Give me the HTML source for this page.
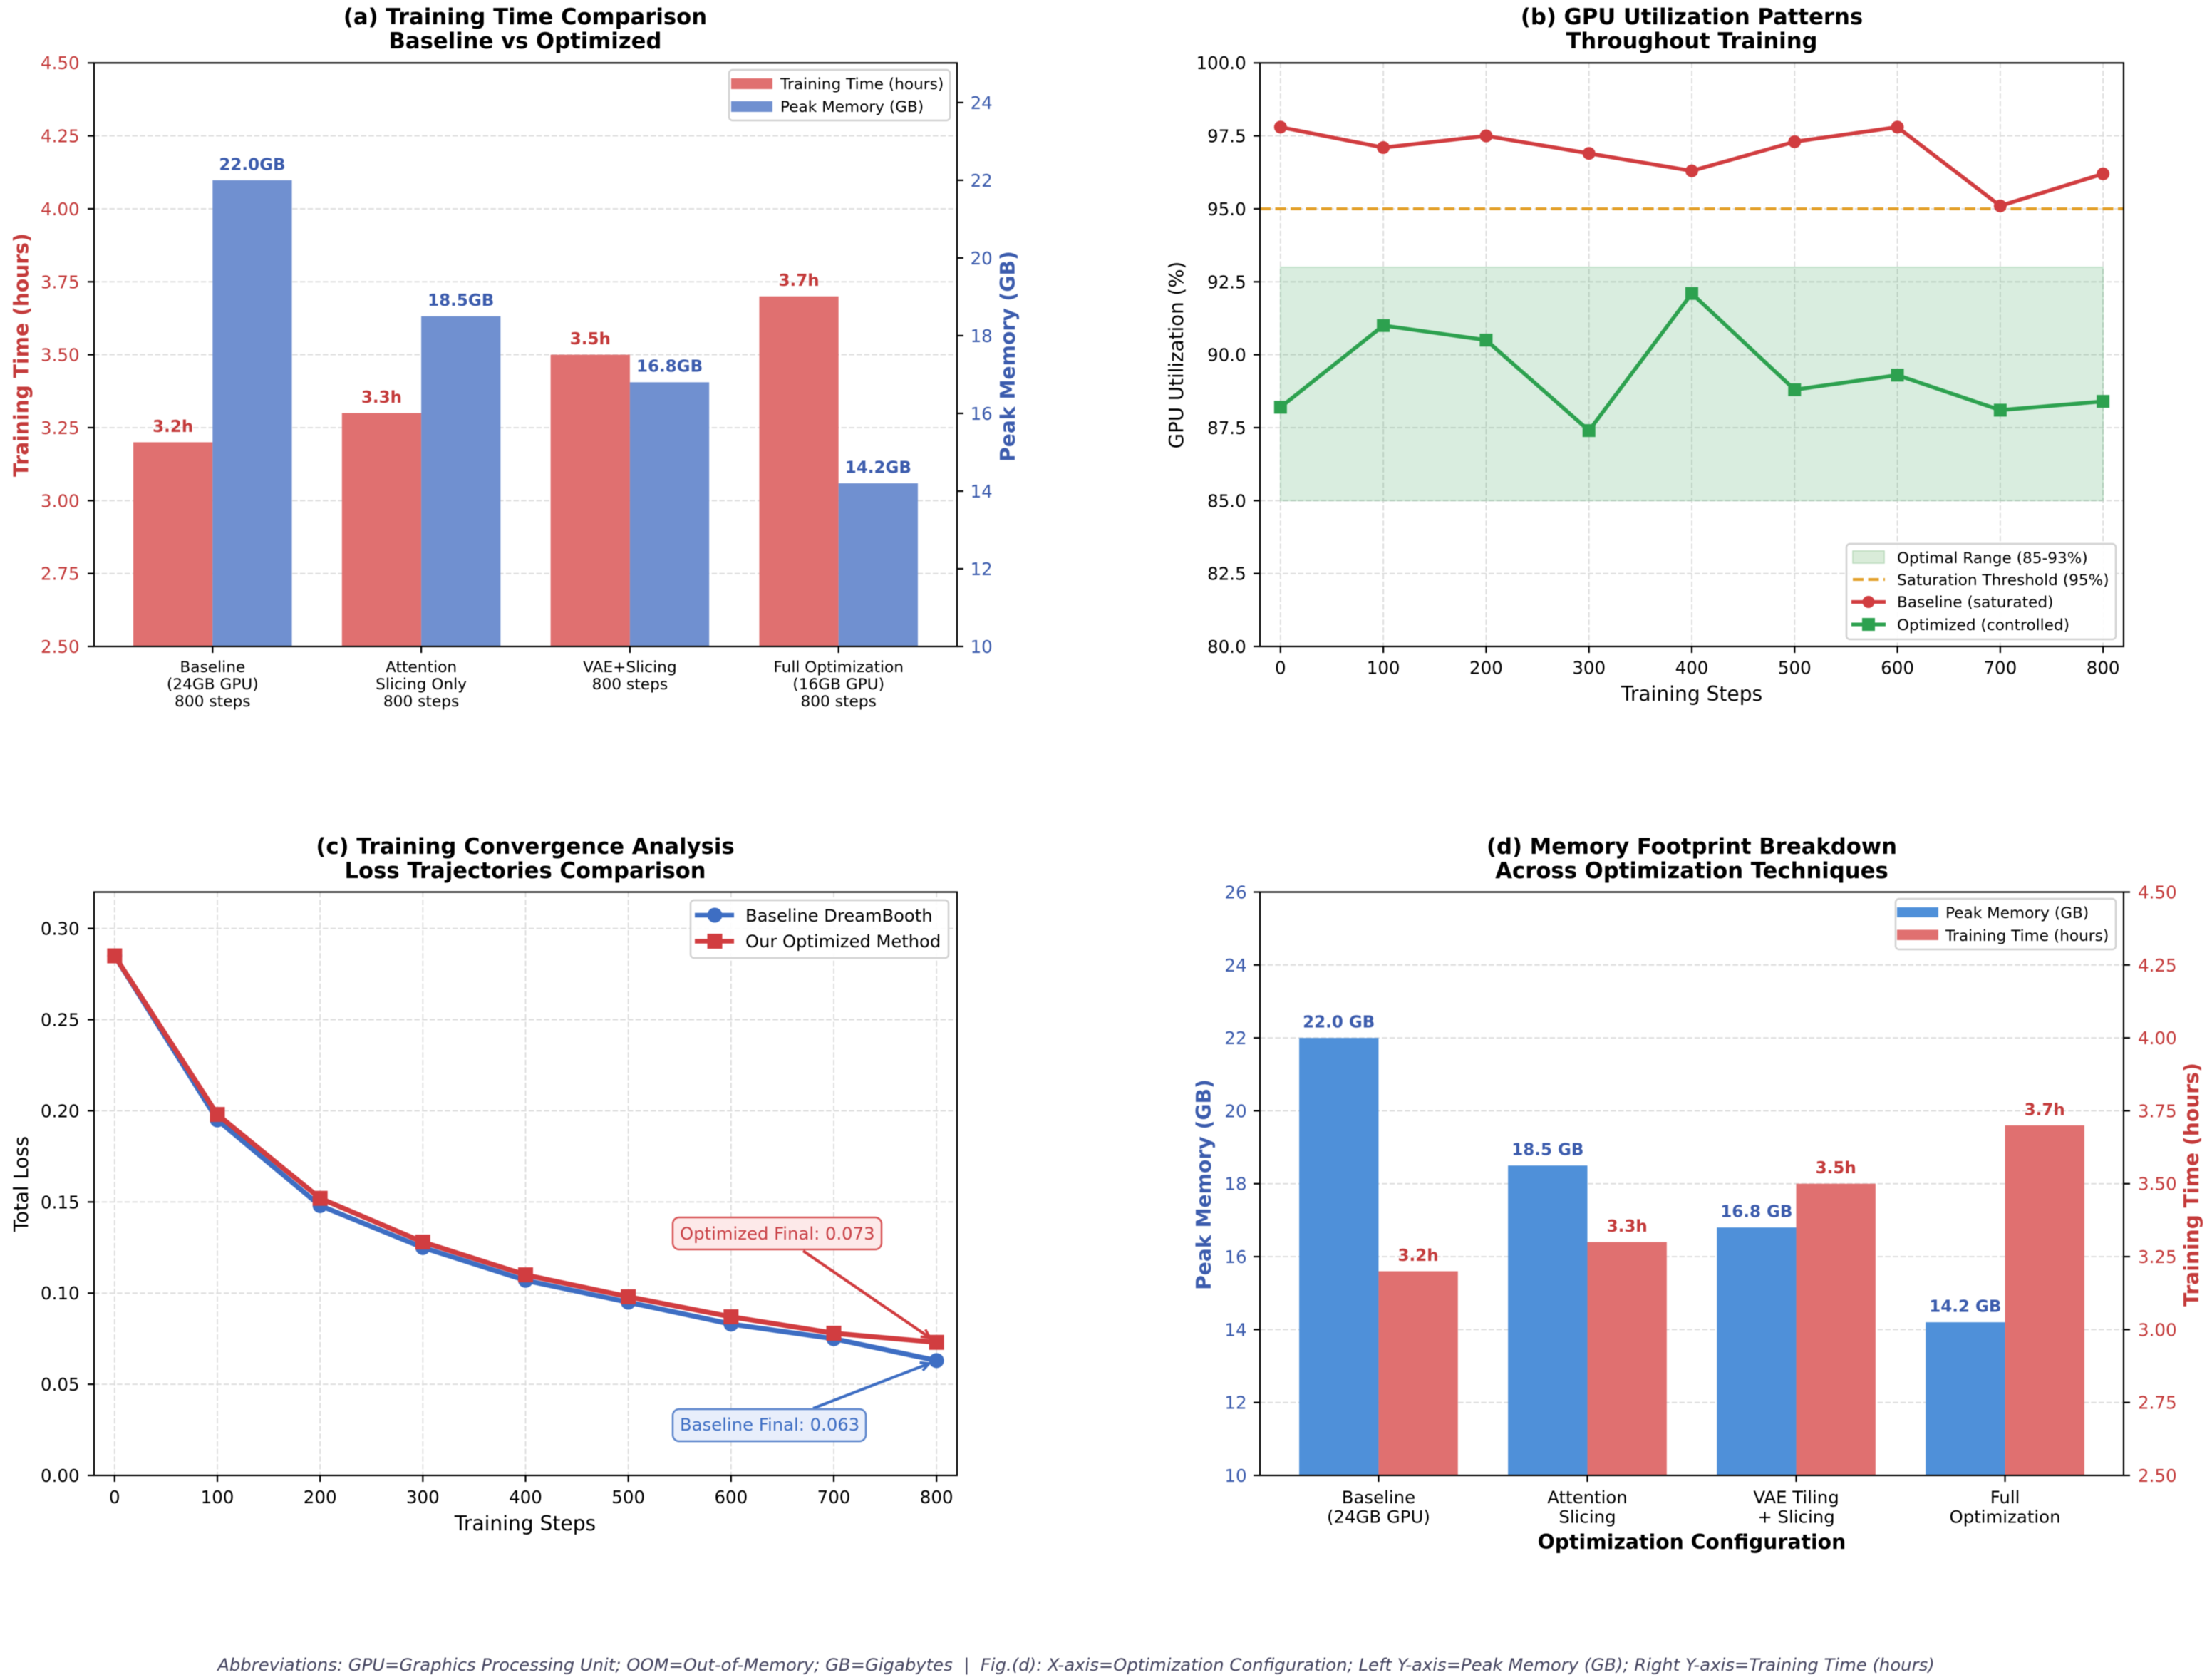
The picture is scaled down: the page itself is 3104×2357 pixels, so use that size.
<!DOCTYPE html>
<html lang="en">
<head>
<meta charset="utf-8">
<title>Training optimization charts</title>
<style>
html,body{margin:0;padding:0;background:#fff;}
svg{display:block;font-family:"DejaVu Sans","Liberation Sans",sans-serif;filter:blur(0.4px);}
</style>
</head>
<body>
<svg id="figure" xmlns="http://www.w3.org/2000/svg" width="3104" height="2357" viewBox="0 0 3104 2357">
  <rect x="0" y="0" width="3104" height="2357" fill="#fff"/>

  <g id="panel-a">
    <text x="737" y="34" text-anchor="middle" font-size="30.7" font-weight="bold">(a) Training Time Comparison</text>
    <text x="737" y="68" text-anchor="middle" font-size="30.7" font-weight="bold">Baseline vs Optimized</text>
    <g id="marks-a"></g>
    <text transform="translate(39.5 498) rotate(-90)" text-anchor="middle" font-size="28.2" font-weight="bold" fill="#c43b3b">Training Time (hours)</text>
    <text transform="translate(1424 500) rotate(-90)" text-anchor="middle" font-size="28.2" font-weight="bold" fill="#3c5cad">Peak Memory (GB)</text>
    <g>
      <rect x="1023" y="98" width="310" height="71" rx="5" fill="#fff" fill-opacity="0.9" stroke="#d2d2d2" stroke-width="2.5"/>
      <rect x="1026" y="110" width="58" height="15" fill="#e07070"/>
      <text x="1095" y="125" font-size="21.6">Training Time (hours)</text>
      <rect x="1026" y="142" width="58" height="15" fill="#7090d0"/>
      <text x="1095" y="157" font-size="21.6">Peak Memory (GB)</text>
    </g>
  </g>

  <g id="panel-b">
    <text x="2374" y="34" text-anchor="middle" font-size="30.7" font-weight="bold">(b) GPU Utilization Patterns</text>
    <text x="2374" y="68" text-anchor="middle" font-size="30.7" font-weight="bold">Throughout Training</text>
    <g id="marks-b"></g>
    <text transform="translate(1660 498) rotate(-90)" text-anchor="middle" font-size="27.7">GPU Utilization (%)</text>
    <text x="2374" y="983" text-anchor="middle" font-size="28.1">Training Steps</text>
    <g>
      <rect x="2591" y="763" width="378" height="134" rx="5" fill="#fff" fill-opacity="0.9" stroke="#d2d2d2" stroke-width="2.5"/>
      <rect x="2600" y="773" width="44" height="17" fill="#d9ecd9" stroke="#bcdcbe" stroke-width="1.5"/>
      <text x="2662" y="790" font-size="21.6">Optimal Range (85-93%)</text>
      <line x1="2600" y1="813" x2="2645" y2="813" stroke="#e3a02a" stroke-width="4" stroke-dasharray="15,6.5"/>
      <text x="2662" y="821" font-size="21.6">Saturation Threshold (95%)</text>
      <line x1="2598" y1="844.5" x2="2646" y2="844.5" stroke="#d13d40" stroke-width="5"/>
      <circle cx="2622" cy="844.5" r="8.5" fill="#d13d40"/>
      <text x="2662" y="852" font-size="21.6">Baseline (saturated)</text>
      <line x1="2598" y1="876" x2="2646" y2="876" stroke="#2da14f" stroke-width="5"/>
      <rect x="2613" y="867" width="18" height="18" fill="#2da14f"/>
      <text x="2662" y="884" font-size="21.6">Optimized (controlled)</text>
    </g>
  </g>

  <g id="panel-c">
    <text x="737" y="1198" text-anchor="middle" font-size="30.7" font-weight="bold">(c) Training Convergence Analysis</text>
    <text x="737" y="1232" text-anchor="middle" font-size="30.7" font-weight="bold">Loss Trajectories Comparison</text>
    <g id="marks-c"></g>
    <text transform="translate(39 1661) rotate(-90)" text-anchor="middle" font-size="27.7">Total Loss</text>
    <text x="737" y="2147" text-anchor="middle" font-size="28.1">Training Steps</text>
    <g>
      <rect x="944" y="1708" width="293" height="45" rx="9" fill="#fde9e9" stroke="#d9585a" stroke-width="2.5"/>
      <text x="954" y="1739" font-size="24.3" fill="#c94045">Optimized Final: 0.073</text>
    </g>
    <g>
      <rect x="944" y="1977" width="271" height="45" rx="9" fill="#e8eefb" stroke="#5c85cc" stroke-width="2.5"/>
      <text x="954" y="2007" font-size="24.3" fill="#3e6ec3">Baseline Final: 0.063</text>
    </g>
    <g>
      <rect x="969" y="1263" width="362" height="81" rx="5" fill="#fff" fill-opacity="0.9" stroke="#d2d2d2" stroke-width="2.5"/>
      <line x1="975" y1="1284" x2="1030" y2="1284" stroke="#3e6ec3" stroke-width="6.5"/>
      <circle cx="1003" cy="1284" r="10.5" fill="#3e6ec3"/>
      <text x="1046" y="1293" font-size="24.2">Baseline DreamBooth</text>
      <line x1="975" y1="1320.5" x2="1030" y2="1320.5" stroke="#d13d40" stroke-width="6.5"/>
      <rect x="992.5" y="1310" width="21" height="21" fill="#d13d40"/>
      <text x="1046" y="1329" font-size="24.2">Our Optimized Method</text>
    </g>
  </g>

  <g id="panel-d">
    <text x="2374" y="1198" text-anchor="middle" font-size="30.7" font-weight="bold">(d) Memory Footprint Breakdown</text>
    <text x="2374" y="1232" text-anchor="middle" font-size="30.7" font-weight="bold">Across Optimization Techniques</text>
    <g id="marks-d"></g>
    <text transform="translate(1699 1662) rotate(-90)" text-anchor="middle" font-size="28.2" font-weight="bold" fill="#3c5cad">Peak Memory (GB)</text>
    <text transform="translate(3085 1662) rotate(-90)" text-anchor="middle" font-size="28.2" font-weight="bold" fill="#c43b3b">Training Time (hours)</text>
    <text x="2374" y="2173" text-anchor="middle" font-size="28.3" font-weight="bold">Optimization Configuration</text>
    <g>
      <rect x="2660" y="1261" width="309" height="71" rx="5" fill="#fff" fill-opacity="0.9" stroke="#d2d2d2" stroke-width="2.5"/>
      <rect x="2662" y="1273" width="58" height="14" fill="#4f90d9"/>
      <text x="2730" y="1288" font-size="21.6">Peak Memory (GB)</text>
      <rect x="2662" y="1304.5" width="58" height="14.5" fill="#e07070"/>
      <text x="2730" y="1320" font-size="21.6">Training Time (hours)</text>
    </g>
  </g>

  <text x="1510" y="2344" text-anchor="middle" font-size="24.3" font-style="italic" fill="#44445f">Abbreviations: GPU=Graphics Processing Unit; OOM=Out-of-Memory; GB=Gigabytes &#160;|&#160; Fig.(d): X-axis=Optimization Configuration; Left Y-axis=Peak Memory (GB); Right Y-axis=Training Time (hours)</text>
</svg>

<script>
// ---- chart data ----
const configLabelsA = [["Baseline","(24GB GPU)","800 steps"],["Attention","Slicing Only","800 steps"],["VAE+Slicing","800 steps"],["Full Optimization","(16GB GPU)","800 steps"]];
const configLabelsD = [["Baseline","(24GB GPU)"],["Attention","Slicing"],["VAE Tiling","+ Slicing"],["Full","Optimization"]];
const trainingHours = [3.2, 3.3, 3.5, 3.7];
const peakMemoryGb = [22.0, 18.5, 16.8, 14.2];
const timeTicks = [2.5, 2.75, 3.0, 3.25, 3.5, 3.75, 4.0, 4.25, 4.5];
const memoryTicksA = [10, 12, 14, 16, 18, 20, 22, 24];
const memoryTicksD = [10, 12, 14, 16, 18, 20, 22, 24, 26];
const steps = [0, 100, 200, 300, 400, 500, 600, 700, 800];
const gpuBaseline = [97.8, 97.1, 97.5, 96.9, 96.3, 97.3, 97.8, 95.1, 96.2];
const gpuOptimized = [88.2, 91.0, 90.5, 87.4, 92.1, 88.8, 89.3, 88.1, 88.4];
const gpuTicks = [80, 82.5, 85, 87.5, 90, 92.5, 95, 97.5, 100];
const optimalRange = [85, 93];
const saturationThreshold = [95];
const lossBaseline = [0.285, 0.195, 0.148, 0.125, 0.107, 0.095, 0.083, 0.075, 0.063];
const lossOptimized = [0.285, 0.198, 0.152, 0.128, 0.110, 0.098, 0.087, 0.078, 0.073];
const lossTicks = [0, 0.05, 0.10, 0.15, 0.20, 0.25, 0.30];

// ---- style constants ----
const RED_TEXT = '#c43b3b', BLUE_TEXT = '#3c5cad';
const RED_BAR = '#e07070', BLUE_BAR_A = '#7090d0', BLUE_BAR_D = '#4f90d9';
const RED_LINE = '#d13d40', GREEN_LINE = '#2da14f', BLUE_LINE = '#3e6ec3', ORANGE = '#e3a02a';
const GRID = '#dcdcdc';
const GRID_DASH = '7.5,3.2';
const NS = 'http://www.w3.org/2000/svg';
const TICK_FONT = 24.5;

function svgEl(parent, tag, attrs, text) {
  const el = document.createElementNS(NS, tag);
  for (const k in attrs) el.setAttribute(k, attrs[k]);
  if (text !== undefined) el.textContent = text;
  parent.appendChild(el);
  return el;
}
function linear(d0, d1, r0, r1) {
  return v => r0 + (v - d0) / (d1 - d0) * (r1 - r0);
}
const BAR_W = 0.38;
const BAR_X0 = -0.568, BAR_X1 = 3.568;

function hGrid(g, box, scale, ticks) {
  ticks.forEach(t => {
    const el = svgEl(g, 'line', {x1: box.l, x2: box.r, y1: scale(t), y2: scale(t), stroke: GRID, 'stroke-width': 1.8, 'stroke-dasharray': GRID_DASH});
    
    
  });
}
function vGrid(g, box, scale, ticks) {
  ticks.forEach(t => {
    const el = svgEl(g, 'line', {x1: scale(t), x2: scale(t), y1: box.t, y2: box.b, stroke: GRID, 'stroke-width': 1.8, 'stroke-dasharray': GRID_DASH});
    
    
  });
}
function frame(g, box) {
  const el = svgEl(g, 'rect', {x: box.l, y: box.t, width: box.r - box.l, height: box.b - box.t, fill: 'none', stroke: '#000', 'stroke-width': 2.2});
  
  
}
function yAxis(g, box, scale, ticks, fmt, side, color, labelX) {
  ticks.forEach(t => {
    const x = side === 'left' ? box.l : box.r;
    const dir = side === 'left' ? -1 : 1;
    const mark = svgEl(g, 'line', {x1: x, x2: x + dir * 9, y1: scale(t), y2: scale(t), stroke: '#000', 'stroke-width': 2.2});
    
    
    const lab = svgEl(g, 'text', {x: labelX, y: scale(t) + TICK_FONT * 0.365, 'text-anchor': side === 'left' ? 'end' : 'start', 'font-size': TICK_FONT, fill: color}, fmt(t));
    
    
  });
}
function xTicksNumeric(g, box, scale, ticks, labelY) {
  ticks.forEach(t => {
    const mark = svgEl(g, 'line', {x1: scale(t), x2: scale(t), y1: box.b, y2: box.b + 9, stroke: '#000', 'stroke-width': 2.2});
    
    
    const lab = svgEl(g, 'text', {x: scale(t), y: labelY + TICK_FONT * 0.365, 'text-anchor': 'middle', 'font-size': TICK_FONT, fill: '#000'}, String(t));
    
    
  });
}
function xTicksCategory(g, box, scale, cats, firstY, pitch, size) {
  cats.forEach((lines, i) => {
    const mark = svgEl(g, 'line', {x1: scale(i), x2: scale(i), y1: box.b, y2: box.b + 9, stroke: '#000', 'stroke-width': 2.2});
    
    
    lines.forEach((s, j) => {
      const lab = svgEl(g, 'text', {x: scale(i), y: firstY + j * pitch + size * 0.36, 'text-anchor': 'middle', 'font-size': size, fill: '#000'}, s);
      
      
    });
  });
}
function bar(g, xScale, yScale, cat, offset, value, color, baseline) {
  const x0 = xScale(cat + offset), x1 = xScale(cat + offset + BAR_W);
  const el = svgEl(g, 'rect', {x: x0, y: yScale(value), width: x1 - x0, height: baseline - yScale(value), fill: color});
  
  
}
function valueLabel(g, xScale, yScale, cat, offset, value, text, color) {
  const el = svgEl(g, 'text', {x: xScale(cat + offset + BAR_W / 2), y: yScale(value) - 23 + 23 * 0.365, 'text-anchor': 'middle', 'font-size': 23, 'font-weight': 'bold', fill: color}, text);
  
  
}
function series(g, xs, ys, xScale, yScale, color, width, kind, size, name) {
  const pts = xs.map((v, i) => xScale(v) + ',' + yScale(ys[i])).join(' ');
  const line = svgEl(g, 'polyline', {points: pts, fill: 'none', stroke: color, 'stroke-width': width, 'stroke-linejoin': 'round'});
  
  
  xs.forEach((v, i) => {
    const cx = xScale(v), cy = yScale(ys[i]);
    const mk = kind === 'circle'
      ? svgEl(g, 'circle', {cx: cx, cy: cy, r: size / 2, fill: color})
      : svgEl(g, 'rect', {x: cx - size / 2, y: cy - size / 2, width: size, height: size, fill: color});
    
    
  });
}
function arrow(g, sx, sy, tx, ty, shrink, color, name) {
  const dx = tx - sx, dy = ty - sy, len = Math.hypot(dx, dy);
  const ux = dx / len, uy = dy / len;
  const ex = tx - ux * shrink, ey = ty - uy * shrink;
  const shaft = svgEl(g, 'line', {x1: sx, y1: sy, x2: ex, y2: ey, stroke: color, 'stroke-width': 4});
  
  
  const hl = 12, hw = 6;
  const head = svgEl(g, 'polyline', {
    points: (ex - ux * hl - uy * hw) + ',' + (ey - uy * hl + ux * hw) + ' ' + ex + ',' + ey + ' ' + (ex - ux * hl + uy * hw) + ',' + (ey - uy * hl - ux * hw),
    fill: 'none', stroke: color, 'stroke-width': 3.5});
  
  
}
const f2 = v => v.toFixed(2), f1 = v => v.toFixed(1), f0 = v => String(v);

// ---- panel a ----
(function () {
  const g = document.getElementById('marks-a');
  const box = {l: 132, r: 1343, t: 88.3, b: 907};
  const x = linear(BAR_X0, BAR_X1, box.l, box.r);
  const yT = linear(2.5, 4.5, box.b, box.t);
  const yM = linear(10, 25.02, box.b, box.t);
  hGrid(g, box, yT, timeTicks.slice(1, -1));
  trainingHours.forEach((v, i) => {
    bar(g, x, yT, i, -BAR_W, v, RED_BAR, box.b);
    bar(g, x, yM, i, 0, peakMemoryGb[i], BLUE_BAR_A, box.b);
    valueLabel(g, x, yT, i, -BAR_W, v, v.toFixed(1) + 'h', RED_TEXT);
    valueLabel(g, x, yM, i, 0, peakMemoryGb[i], peakMemoryGb[i].toFixed(1) + 'GB', BLUE_TEXT);
  });
  frame(g, box);
  yAxis(g, box, yT, timeTicks, f2, 'left', RED_TEXT, 111.6);
  yAxis(g, box, yM, memoryTicksA, f0, 'right', BLUE_TEXT, 1361.6);
  xTicksCategory(g, box, x, configLabelsA, 935, 24, 21.7);
})();

// ---- panel b ----
(function () {
  const g = document.getElementById('marks-b');
  const box = {l: 1768, r: 2980, t: 88.3, b: 907};
  const x = linear(-20, 820, box.l, box.r);
  const y = linear(80, 100, box.b, box.t);
  hGrid(g, box, y, gpuTicks.slice(1, -1));
  vGrid(g, box, x, steps);
  const band = svgEl(g, 'rect', {x: x(steps[0]), y: y(optimalRange[1]), width: x(steps[steps.length - 1]) - x(steps[0]), height: y(optimalRange[0]) - y(optimalRange[1]), fill: '#2a9d4e', 'fill-opacity': 0.18, stroke: '#2a9d4e', 'stroke-opacity': 0.18, 'stroke-width': 2});
  
  
  const th = svgEl(g, 'line', {x1: box.l, x2: box.r, y1: y(saturationThreshold[0]), y2: y(saturationThreshold[0]), stroke: ORANGE, 'stroke-width': 4, 'stroke-dasharray': '15,6.5'});
  
  
  series(g, steps, gpuBaseline, x, y, RED_LINE, 5.4, 'circle', 18, 'gpu-baseline');
  series(g, steps, gpuOptimized, x, y, GREEN_LINE, 5.4, 'square', 18, 'gpu-optimized');
  frame(g, box);
  yAxis(g, box, y, gpuTicks, f1, 'left', '#000', 1748.7);
  xTicksNumeric(g, box, x, steps, 936.5);
})();

// ---- panel c ----
(function () {
  const g = document.getElementById('marks-c');
  const box = {l: 132, r: 1343, t: 1251.5, b: 2070};
  const x = linear(-20, 820, box.l, box.r);
  const y = linear(0, 0.32, box.b, box.t);
  hGrid(g, box, y, lossTicks.slice(1));
  vGrid(g, box, x, steps);
  series(g, steps, lossBaseline, x, y, BLUE_LINE, 7, 'circle', 21, 'loss-baseline');
  series(g, steps, lossOptimized, x, y, RED_LINE, 7, 'square', 21, 'loss-optimized');
  const last = steps[steps.length - 1];
  arrow(g, 1127, 1755, x(last), y(lossOptimized[lossOptimized.length - 1]), 11, RED_LINE, 'annotation-optimized-arrow');
  arrow(g, 1141, 1976, x(last), y(lossBaseline[lossBaseline.length - 1]), 11, BLUE_LINE, 'annotation-baseline-arrow');
  frame(g, box);
  yAxis(g, box, y, lossTicks, f2, 'left', '#000', 111.6);
  xTicksNumeric(g, box, x, steps, 2100);
})();

// ---- panel d ----
(function () {
  const g = document.getElementById('marks-d');
  const box = {l: 1768, r: 2980, t: 1251.5, b: 2070};
  const x = linear(BAR_X0, BAR_X1, box.l, box.r);
  const yM = linear(10, 26, box.b, box.t);
  const yT = linear(2.5, 4.5, box.b, box.t);
  hGrid(g, box, yM, memoryTicksD.slice(1, -1));
  peakMemoryGb.forEach((v, i) => {
    bar(g, x, yM, i, -BAR_W, v, BLUE_BAR_D, box.b);
    bar(g, x, yT, i, 0, trainingHours[i], RED_BAR, box.b);
    valueLabel(g, x, yM, i, -BAR_W, v, v.toFixed(1) + ' GB', BLUE_TEXT);
    valueLabel(g, x, yT, i, 0, trainingHours[i], trainingHours[i].toFixed(1) + 'h', RED_TEXT);
  });
  frame(g, box);
  yAxis(g, box, yM, memoryTicksD, f0, 'left', BLUE_TEXT, 1749.6);
  yAxis(g, box, yT, timeTicks, f2, 'right', RED_TEXT, 3000);
  xTicksCategory(g, box, x, configLabelsD, 2100, 27.8, 24.4);
})();
</script>
</body>
</html>
